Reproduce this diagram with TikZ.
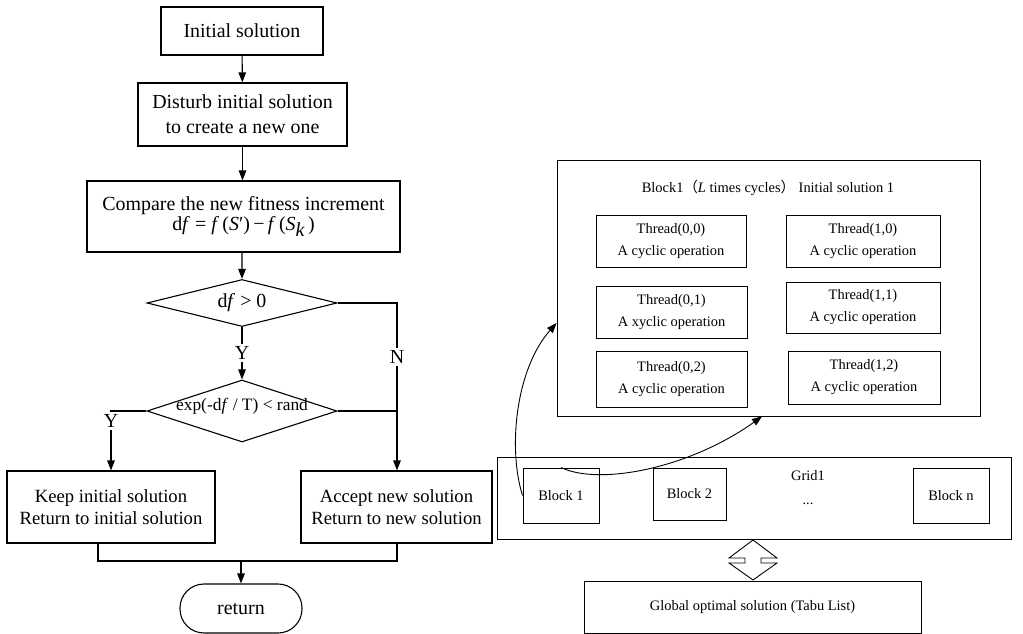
\documentclass[tikz,border=0pt]{standalone}
\usepackage{fontspec}
\setmainfont{Liberation Serif}
\newfontfamily\cjk{Noto Sans CJK SC}
\usetikzlibrary{arrows.meta,shapes.geometric}
\begin{document}
\begin{tikzpicture}[x=1bp,y=-1bp,line width=1.1bp,
  box/.style={draw,inner sep=0pt,align=center},
  big/.style={font=\fontsize{20}{25}\selectfont},
  mid/.style={font=\fontsize{18.7}{21.7}\selectfont},
  small/.style={font=\fontsize{14.5}{22}\selectfont},
  rbox/.style={box,small,line width=0.9bp},
  lab/.style={big,fill=white,inner sep=2pt},
  arr/.style={-{Triangle[length=10bp,width=7.5bp]}},
  dia/.style={draw,diamond,inner sep=0pt}]
\useasboundingbox (0,0) rectangle (1023,634);

% ---------------- left flowchart ----------------
\node[box,big,minimum width=162bp,minimum height=48bp] (init) at (242,31) {Initial solution};
\node[box,big,minimum width=209bp,minimum height=63bp] (dist) at (242.5,114.5) {Disturb initial solution\\to create a new one};
\node[box,big,minimum width=313bp,minimum height=71bp,font=\fontsize{20}{22}\selectfont] (cmp) at (243.5,216.5)
  {Compare the new fitness increment\\[-2pt]d\textit{f} = \textit{f}\,(\textit{S}′)\,−\,\textit{f}\,(\textit{S}\raisebox{-6pt}{\textit{k}}\,)};
\node[dia,minimum width=190bp,minimum height=47bp] (d1) at (242,303) {};
\node[big] (d1t) at (242,303) {d\textit{f} > 0};
\node[dia,minimum width=190bp,minimum height=62bp] (d2) at (242,411) {};
\node[font=\fontsize{17.5}{20}\selectfont] (d2t) at (242,406) {exp(-d\textit{f} / T) < rand};
\node[box,mid,minimum width=208bp,minimum height=72bp] (keep) at (111,507) {Keep initial solution\\Return to initial solution};
\node[box,mid,minimum width=191bp,minimum height=72bp] (acc) at (396.5,507) {Accept new solution\\Return to new solution};
\node[draw,big,minimum width=122bp,minimum height=49bp,rounded corners=24bp] (ret) at (241,608.5) {return};

\draw[arr] (init) -- (dist);
\draw[arr] (dist) -- (cmp.north -| dist.south);
\draw[arr] ([xshift=-1.5bp]cmp.south) -- (d1.north);
\draw[arr] (d1.south) -- (d2.north);
\node[lab] (y1) at (242,353) {Y};
\draw[arr] (d1.east) -- (397,303) -- (acc.north -| 397,0);
\node[lab] (n1) at (397,357) {N};
\draw (d2.east) -- (397,411);
\draw[arr] (d2.west) -- (111,411) -- (keep.north);
\node[lab] (y2) at (111,421) {Y};
\coordinate (mrg) at (241,561);
\draw (keep.south -| 98,0) -- (98,561) -- (397,561) -- (acc.south -| 397,0);
\draw[arr] (mrg) -- (ret.north);

% ---------------- right part ----------------
\node[draw,line width=0.9bp,minimum width=423bp,minimum height=256bp,inner sep=0pt] (blk) at (768.5,288) {};
\node[small] (ttl) at (768,188) {Block1{\cjk （}\textit{L} times cycles{\cjk ）} Initial solution 1};
\node[rbox,minimum width=150bp,minimum height=52bp] (t00) at (671,241) {Thread(0,0)\\A cyclic operation};
\node[rbox,minimum width=154bp,minimum height=52bp] (t10) at (863,241) {Thread(1,0)\\A cyclic operation};
\node[rbox,minimum width=151bp,minimum height=52bp] (t01) at (671.5,312) {Thread(0,1)\\A xyclic operation};
\node[rbox,minimum width=154bp,minimum height=51bp] (t11) at (863,307.5) {Thread(1,1)\\A cyclic operation};
\node[rbox,minimum width=151bp,minimum height=56bp] (t02) at (671.5,379) {Thread(0,2)\\A cyclic operation};
\node[rbox,minimum width=152bp,minimum height=53bp] (t12) at (864,377.5) {Thread(1,2)\\A cyclic operation};

\node[draw,line width=0.9bp,minimum width=514bp,minimum height=82bp,inner sep=0pt] (grid) at (754,498) {};
\node[rbox,minimum width=76bp,minimum height=55bp] (b1) at (561,495.5) {Block 1};
\node[rbox,minimum width=73bp,minimum height=52bp] (b2) at (689.5,494) {Block 2};
\node[rbox,minimum width=76bp,minimum height=55bp] (bn) at (951,495.5) {Block n};
\node[small] (gl) at (808,476) {Grid1};
\node[small] (dots) at (808,504) {...};

\node[rbox,minimum width=337bp,minimum height=52bp] (glob) at (752.5,607) {Global optimal solution (Tabu List)};

\draw[line width=0.9bp] (753,540) -- (777,558) -- (761,558) -- (761,563) -- (777,563) -- (753,580)
  -- (729,563) -- (745,563) -- (745,558) -- (729,558) -- cycle;

\draw[arr,line width=0.9bp] (b1.west) .. controls (508,450) and (515,370) .. ([yshift=-35bp]blk.west);
\draw[arr,line width=0.9bp] (b1.north) .. controls (600,486) and (690,468) .. ([xshift=-6.5bp]blk.south);
\end{tikzpicture}
\end{document}
